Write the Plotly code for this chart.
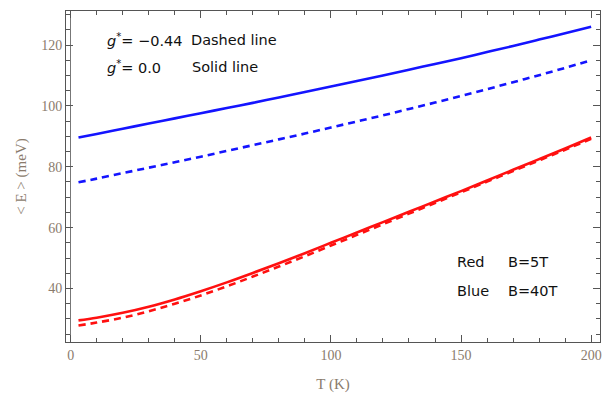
import plotly.graph_objects as go

T = [3, 10, 20, 30, 40, 50, 60, 70, 80, 90, 100, 110, 120, 130, 140, 150, 160, 170, 180, 190, 200]

blue_solid = [89.6, 90.8, 92.5, 94.2, 95.9, 97.6, 99.3, 101.0, 102.8, 104.6, 106.4, 108.2, 110.0, 111.9, 113.8, 115.7, 117.7, 119.7, 121.8, 123.9, 126.0]
blue_dashed = [74.9, 76.1, 77.9, 79.7, 81.5, 83.3, 85.2, 87.1, 89.0, 90.9, 92.9, 94.9, 96.9, 99.0, 101.1, 103.3, 105.5, 107.8, 110.1, 112.5, 115.0]
red_solid = [29.5, 30.4, 32.0, 34.0, 36.4, 39.1, 42.0, 45.1, 48.3, 51.6, 55.0, 58.4, 61.8, 65.2, 68.6, 72.0, 75.5, 79.0, 82.5, 86.0, 89.6]
red_dashed = [27.8, 28.8, 30.4, 32.5, 35.0, 37.7, 40.7, 43.9, 47.2, 50.6, 54.1, 57.6, 61.1, 64.6, 68.1, 71.6, 75.1, 78.6, 82.1, 85.6, 89.2]

x_ticks = [0, 50, 100, 150, 200]
y_ticks = [40, 60, 80, 100, 120]

fig = go.Figure()
fig.add_trace(go.Scatter(x=T, y=blue_solid, mode="lines", line=dict(color="#1414ff", width=2.6, shape="spline")))
fig.add_trace(go.Scatter(x=T, y=blue_dashed, mode="lines", line=dict(color="#1414ff", width=2.6, dash="7px,5px", shape="spline")))
fig.add_trace(go.Scatter(x=T, y=red_solid, mode="lines", line=dict(color="#ff1010", width=2.6, shape="spline")))
fig.add_trace(go.Scatter(x=T, y=red_dashed, mode="lines", line=dict(color="#ff1010", width=2.6, dash="7px,5px", shape="spline")))

tickfont = dict(family="Liberation Serif, Times New Roman, serif", size=14, color="#8a7b6c")
axis_common = dict(
    showline=True, linecolor="#555555", linewidth=1, mirror="ticks",
    ticks="inside", ticklen=7, tickcolor="#555555", tickwidth=1,
    showgrid=False, tickfont=tickfont,
)

fig.update_xaxes(
    range=[-1.8, 203.4], tickvals=x_ticks, ticktext=[str(v) for v in x_ticks],
    minor=dict(ticks="inside", dtick=10, ticklen=4, tickcolor="#555555", tick0=0),
    zeroline=True, zerolinecolor="#777777", zerolinewidth=1,
    title=dict(text="T (K)", font=dict(family="Liberation Serif, Times New Roman, serif", size=15, color="#8a7b6c"), standoff=16),
    **axis_common,
)
fig.update_yaxes(
    range=[22.4, 131.2], tickvals=y_ticks, ticktext=[str(v) for v in y_ticks],
    minor=dict(ticks="inside", dtick=5, ticklen=4, tickcolor="#555555", tick0=0),
    zeroline=False,
    title=dict(text="< E > (meV)", font=dict(family="Liberation Serif, Times New Roman, serif", size=15, color="#8a7b6c"), standoff=10),
    **axis_common,
)

annfont = dict(family="DejaVu Sans, Verdana, sans-serif", size=14.5, color="#111111")
annotations = [
    dict(x=105, y=40, text="<i>g</i><sup>*</sup>= \u22120.44"),
    dict(x=189, y=40, text="Dashed line"),
    dict(x=105, y=67, text="<i>g</i><sup>*</sup>= 0.0"),
    dict(x=190, y=67, text="Solid line"),
    dict(x=456, y=262, text="Red"),
    dict(x=508, y=262, text="B=5T"),
    dict(x=456, y=291, text="Blue"),
    dict(x=508, y=291, text="B=40T"),
]
W, H = 604, 398
ml, mr, mt, mb = 66, 2, 11, 56
pw, ph = W - ml - mr, H - mt - mb
for a in annotations:
    fig.add_annotation(
        x=(a["x"] - ml) / pw, y=1 - (a["y"] - mt) / ph, xref="paper", yref="paper",
        text=a["text"], showarrow=False, xanchor="left", yanchor="middle",
        font=annfont,
    )

fig.update_layout(
    width=W, height=H,
    margin=dict(l=ml, r=mr, t=mt, b=mb),
    plot_bgcolor="white", paper_bgcolor="white",
    showlegend=False,
)

fig.write_html("out.html")
